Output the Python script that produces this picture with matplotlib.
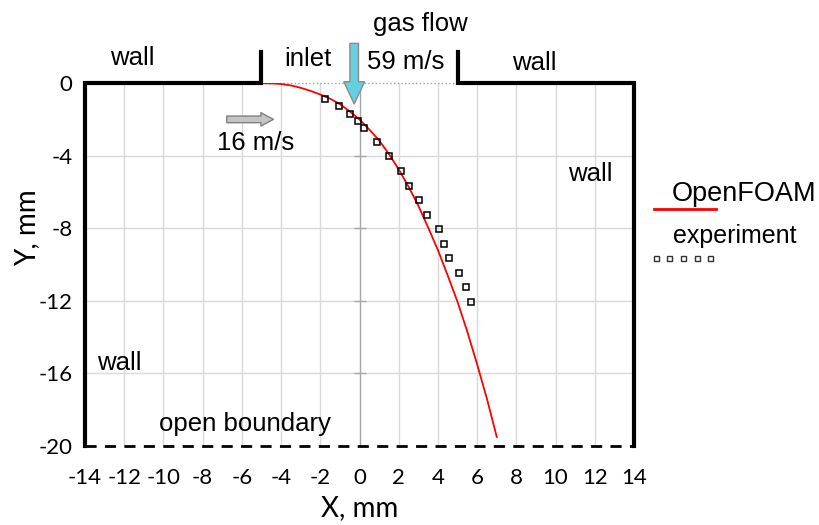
import matplotlib
matplotlib.use("Agg")
import matplotlib.pyplot as plt
import numpy as np

plt.rcParams["axes.unicode_minus"] = False

# OpenFOAM jet trajectory
x_sim = [-4.95, -4.5, -4.0, -3.5, -3.0, -2.5, -2.0, -1.5, -1.0, -0.5, 0.0, 0.5, 1.0,
         1.5, 2.0, 2.5, 3.0, 3.5, 4.0, 4.5, 5.0, 5.5, 6.0, 6.5, 7.0]
y_sim = [0.0, -0.01, -0.04, -0.12, -0.25, -0.42, -0.62, -0.85, -1.15, -1.55, -2.0, -2.55, -3.15,
         -3.9, -4.75, -5.7, -6.75, -7.95, -9.2, -10.6, -12.05, -13.7, -15.5, -17.4, -19.5]

# experiment points
x_exp = [-1.75, -1.04, -0.51, -0.1, 0.24, 0.9, 1.53, 2.14, 2.55, 3.01, 3.43, 4.03, 4.29,
         4.56, 5.05, 5.44, 5.68]
y_exp = [-0.87, -1.25, -1.67, -2.07, -2.45, -3.23, -4.02, -4.85, -5.64, -6.45, -7.28, -8.05,
         -8.88, -9.65, -10.46, -11.25, -12.07]

x_ticks = list(range(-14, 15, 2))
y_ticks = [0, -4, -8, -12, -16, -20]

ann_font = "Liberation Sans"
tick_font = "Lato"

fig = plt.figure(figsize=(8.19, 5.25), dpi=100)
ax = fig.add_axes([0.1038, 0.1505, 0.6703, 0.6909])
ax.set_xlim(-14, 14)
ax.set_ylim(-20, 0)

for s in ax.spines.values():
    s.set_visible(False)

# grid
for xv in x_ticks[1:-1]:
    if xv == 0:
        continue
    ax.axvline(xv, color="#d9d9d9", lw=1, zorder=0)
for yv in y_ticks[1:-1]:
    ax.axhline(yv, color="#d9d9d9", lw=1, zorder=0)
ax.axvline(0, color="#a6a6a6", lw=1, zorder=0.5)
ax.plot([0] * len(y_ticks[1:-1]), y_ticks[1:-1], ls="none", marker="_", ms=9,
        mew=1, color="#a6a6a6", zorder=0.5)

ax.set_xticks(x_ticks)
ax.set_yticks(y_ticks)
ax.tick_params(length=0, labelsize=16)
ax.tick_params(axis="x", pad=16)
ax.tick_params(axis="y", pad=9)
for lab in ax.get_xticklabels() + ax.get_yticklabels():
    lab.set_family(tick_font)

ax.set_xlabel("X, mm", fontsize=20, family=tick_font, va="center")
ax.xaxis.set_label_coords(0.5, -0.171)
ax.set_ylabel("Y, mm", fontsize=20, family=tick_font, va="center")
ax.yaxis.set_label_coords(-0.106, 0.601)

# walls and boundaries
ax.plot([-14, -14, -5, -5], [-20, 0, 0, 1.75], color="black", lw=3,
        solid_joinstyle="miter", clip_on=False, zorder=5)
ax.plot([5, 5, 14, 14], [1.75, 0, 0, -20], color="black", lw=3,
        solid_joinstyle="miter", clip_on=False, zorder=5)
ax.plot([-14, 14], [-20, -20], color="black", lw=2, dashes=(4, 3), clip_on=False, zorder=5)
ax.plot([-5, 5], [0, 0], color="#a0a0a0", lw=1, ls=":", clip_on=False, zorder=1)

# data
ax.plot(x_sim, y_sim, color="red", lw=1.3, zorder=3)
ax.plot(x_exp, y_exp, ls="none", marker="s", ms=5, mfc="none", mec="black", mew=1.1,
        zorder=4)

# arrows
ax.annotate("", xy=(-0.27, -1.14), xytext=(-0.27, 2.2), annotation_clip=False,
            arrowprops=dict(arrowstyle="simple,head_length=1.6,head_width=1.5,tail_width=0.62",
                            mutation_scale=10, fc="#66cfe0", ec="#8c8c8c", lw=1,
                            shrinkA=0, shrinkB=0), zorder=6)
ax.annotate("", xy=(-4.39, -1.99), xytext=(-6.77, -1.99), annotation_clip=False,
            arrowprops=dict(arrowstyle="simple,head_length=0.9,head_width=0.96,tail_width=0.48",
                            mutation_scale=10, fc="#c4c4c4", ec="#808080", lw=1,
                            shrinkA=0, shrinkB=0), zorder=6)

# annotations
tk = dict(fontsize=18.5, family=ann_font, ha="center", va="center", clip_on=False)
ax.text(3.11, 3.28, "gas flow", **tk)
ax.text(2.37, 1.15, "59 m/s", **tk)
ax.text(-2.65, 1.34, "inlet", **tk)
ax.text(-11.58, 1.40, "wall", **tk)
ax.text(8.93, 1.12, "wall", **tk)
ax.text(11.79, -5.01, "wall", **tk)
ax.text(-12.24, -15.4, "wall", **tk)
ax.text(-5.82, -18.77, "open boundary", **tk)
ax.text(-5.32, -3.31, "16 m/s", **tk)

# legend (outside the frame)
ax.text(19.6, -6.12, "OpenFOAM", fontsize=19.5, family=ann_font, ha="center", va="center",
        clip_on=False)
ax.plot([15.0, 18.2], [-6.94, -6.94], color="red", lw=2, clip_on=False)
ax.text(19.13, -8.44, "experiment", fontsize=18, family=ann_font, ha="center", va="center",
        clip_on=False)
leg_x = np.linspace(15.1, 17.9, 5)
ax.plot(leg_x, [-9.65] * 5, ls="none", marker="s", ms=3.6, mfc="none", mec="#333333",
        mew=1, clip_on=False)

fig.savefig("out.png", dpi=100)
